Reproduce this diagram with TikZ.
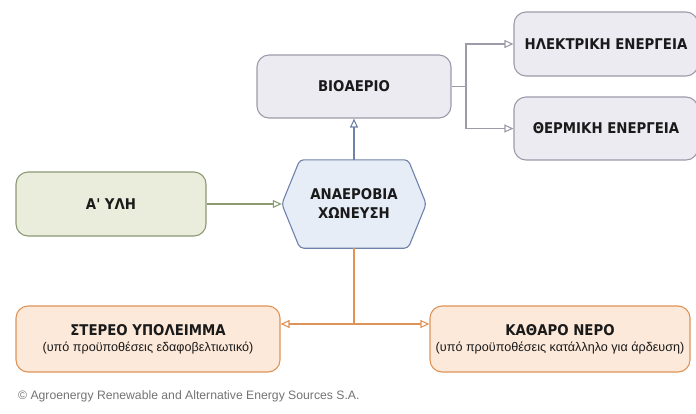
\documentclass[tikz,border=0pt]{standalone}
\usepackage{fontspec}
\setmainfont{Liberation Sans}[BoldFont={Liberation Sans Bold}]
\newfontfamily\headfont{DejaVu Sans Condensed}[BoldFont={DejaVu Sans Condensed Bold}]
\usetikzlibrary{arrows.meta,backgrounds}

\definecolor{greenfill}{HTML}{EAEDDB}
\definecolor{greenline}{HTML}{8C9A74}
\definecolor{bluefill}{HTML}{E6EDF7}
\definecolor{blueline}{HTML}{6F82AC}
\definecolor{greyfill}{HTML}{ECEBF2}
\definecolor{greyline}{HTML}{9C9BAA}
\definecolor{orfill}{HTML}{FCE9DA}
\definecolor{orline}{HTML}{DE9458}
\definecolor{txt}{HTML}{1A1A1A}

\newcommand\subtxt{\normalfont\fontsize{12.6}{15}\selectfont}

\tikzset{
  box/.style={draw, line width=1.1pt, rounded corners=12pt, align=center,
    text=txt, font=\headfont\bfseries\fontsize{14.8}{17}\selectfont},
  greenbox/.style={box, fill=greenfill, draw=greenline},
  greybox/.style={box, fill=greyfill, draw=greyline},
  orbox/.style={box, fill=orfill, draw=orline},
  flow/.style={line width=1.1pt, -{Triangle[open, length=9pt, width=8pt]}}
}

\begin{document}
\begin{tikzpicture}[x=1pt, y=-1pt]
  \useasboundingbox (0,0) rectangle (696,413);

  % process boxes
  \node[greenbox, minimum width=190pt, minimum height=64pt] (raw) at (111,204) {Α' ΥΛΗ};
  \node[greybox, minimum width=194pt, minimum height=63pt] (gas) at (354,86.5) {ΒΙΟΑΕΡΙΟ};
  \node[greybox, minimum width=184pt, minimum height=64pt] (elec) at (606,44) {ΗΛΕΚΤΡΙΚΗ ΕΝΕΡΓΕΙΑ};
  \node[greybox, minimum width=184pt, minimum height=63pt] (heat) at (606,128.5) {ΘΕΡΜΙΚΗ ΕΝΕΡΓΕΙΑ};
  \node[orbox, minimum width=264pt, minimum height=66pt] (solid) at (148,339)
    {ΣΤΕΡΕΟ ΥΠΟΛΕΙΜΜΑ\\[-1pt]{\subtxt (υπό προϋποθέσεις εδαφοβελτιωτικό)}};
  \node[orbox, minimum width=260pt, minimum height=66pt] (water) at (560,339)
    {ΚΑΘΑΡΟ ΝΕΡΟ\\[-1pt]{\subtxt (υπό προϋποθέσεις κατάλληλο για άρδευση)}};

  % digestion hexagon
  \node[align=center, text=txt, font=\headfont\bfseries\fontsize{14.8}{19}\selectfont,
        minimum width=144pt, minimum height=88pt, inner sep=0pt] (dig) at (354,204)
    {ΑΝΑΕΡΟΒΙΑ\\ΧΩΝΕΥΣΗ};
  \begin{scope}[on background layer]
    \draw[fill=bluefill, draw=blueline, line width=1.1pt, rounded corners=4pt]
      (dig.west) -- ([xshift=18pt]dig.north west) -- ([xshift=-18pt]dig.north east)
      -- (dig.east) -- ([xshift=-18pt]dig.south east) -- ([xshift=18pt]dig.south west)
      -- cycle;
  \end{scope}

  % connectors
  \draw[flow, draw=greenline] (raw.east) -- (dig.west);
  \draw[flow, draw=blueline] (dig.north) -- (gas.south);
  \coordinate (split) at (466,86.5);
  \draw[line width=1.1pt, draw=greyline] (gas.east) -- (split);
  \draw[flow, draw=greyline] (split) |- (elec.west);
  \draw[flow, draw=greyline] (split) |- (heat.west);

  \coordinate (fork) at (354,324);
  \draw[line width=1.1pt, draw=orline] (dig.south) -- (fork);
  \draw[flow, draw=orline] (fork) -- (fork -| solid.east);
  \draw[flow, draw=orline] (fork) -- (fork -| water.west);

  % credit line
  \node[anchor=west, text=black!55, font=\fontsize{12.2}{14}\selectfont, inner sep=0pt] (credit) at (18,396)
    {© Agroenergy Renewable and Alternative Energy Sources S.A.};
\end{tikzpicture}
\end{document}
